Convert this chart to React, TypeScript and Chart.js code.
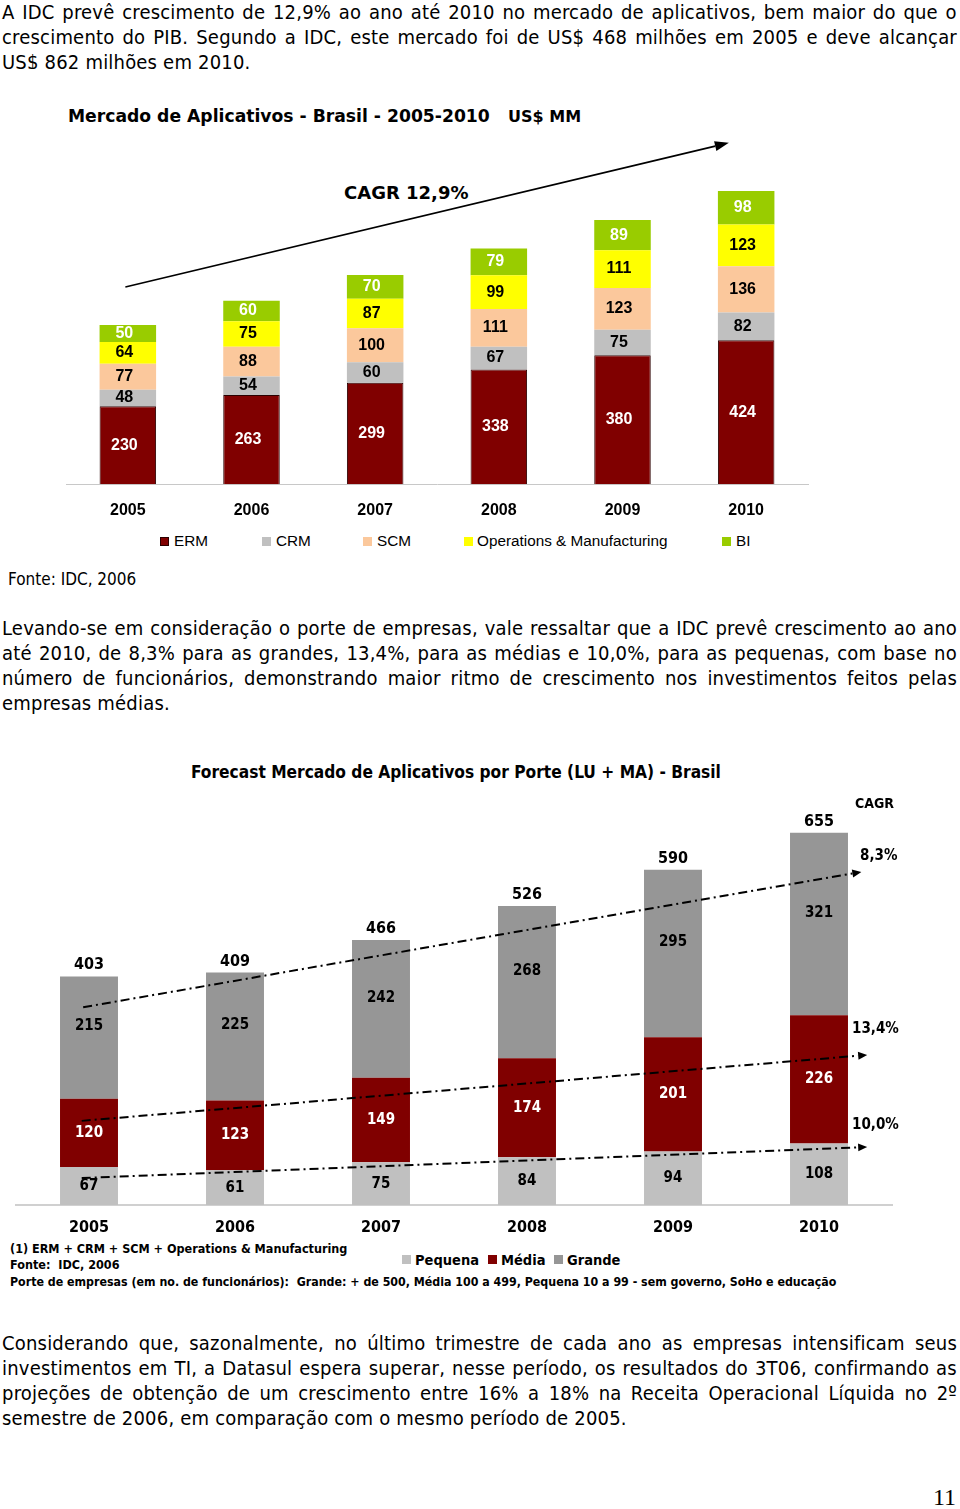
import React, { useEffect, useRef } from "react";
import { Chart, registerables } from "chart.js";
Chart.register(...registerables);

// ---------- Chart 1 data ----------
const years = ["2005", "2006", "2007", "2008", "2009", "2010"];
const erm = [230, 263, 299, 338, 380, 424];
const crm = [48, 54, 60, 67, 75, 82];
const scm = [77, 88, 100, 111, 123, 136];
const ops = [64, 75, 87, 99, 111, 123];
const bi = [50, 60, 70, 79, 89, 98];
// CAGR arrow endpoints in data units [categoryIndex, value]
const cagrArrow1 = [[-0.02, 581], [4.86, 1005]];

// ---------- Chart 2 data ----------
const pequena = [67, 61, 75, 84, 94, 108];
const media = [120, 123, 149, 174, 201, 226];
const grande = [215, 225, 242, 268, 295, 321];
const totals2 = [403, 409, 466, 526, 590, 655];
const trendGrande = [[-0.04, 348], [5.29, 586]];
const trendMedia = [[-0.05, 148], [5.33, 264]];
const trendPequena = [[-0.05, 47.5], [5.33, 102]];

const COND = "'DejaVu Sans Condensed', 'DejaVu Sans', sans-serif";
const DEJA = "'DejaVu Sans', sans-serif";
const ARIAL = "'Liberation Sans', Arial, sans-serif";

const segLabels = {
  id: "segLabels",
  afterDatasetsDraw(chart: any, _args: any, opts: any) {
    const ctx = chart.ctx;
    ctx.save();
    ctx.textAlign = "center";
    ctx.textBaseline = "middle";
    ctx.font = opts.font;
    const dx = opts.dx || 0;
    chart.data.datasets.forEach((ds: any, i: number) => {
      const meta = chart.getDatasetMeta(i);
      ctx.fillStyle = ds.labelColor;
      meta.data.forEach((el: any, j: number) => {
        const { x, y, base } = el.getProps(["x", "y", "base"], true);
        ctx.fillText(String(ds.data[j]), x + dx, (y + base) / 2 + (ds.labelDy || 0));
      });
    });
    if (opts.totals) {
      const last = chart.getDatasetMeta(chart.data.datasets.length - 1);
      const yS = chart.scales.y;
      ctx.fillStyle = "#000";
      ctx.font = opts.totalFont;
      ctx.textBaseline = "bottom";
      last.data.forEach((el: any, j: number) => {
        ctx.fillText(String(opts.totals[j]), el.x, yS.getPixelForValue(opts.totals[j]) - 3);
      });
    }
    ctx.restore();
  },
};

function arrow(ctx: any, x0: number, y0: number, x1: number, y1: number, head: number, half: number) {
  const ang = Math.atan2(y1 - y0, x1 - x0);
  const bx = x1 - Math.cos(ang) * head;
  const by = y1 - Math.sin(ang) * head;
  ctx.beginPath();
  ctx.moveTo(x0, y0);
  ctx.lineTo(bx, by);
  ctx.stroke();
  ctx.setLineDash([]);
  ctx.beginPath();
  ctx.moveTo(x1, y1);
  ctx.lineTo(bx + Math.sin(ang) * half, by - Math.cos(ang) * half);
  ctx.lineTo(bx - Math.sin(ang) * half, by + Math.cos(ang) * half);
  ctx.closePath();
  ctx.fill();
}

const trendPlugin = {
  id: "trendPlugin",
  afterDatasetsDraw(chart: any, _a: any, opts: any) {
    const ctx = chart.ctx;
    const xs = chart.scales.x;
    const ys = chart.scales.y;
    ctx.save();
    ctx.strokeStyle = "#000";
    ctx.fillStyle = "#000";
    ctx.lineWidth = opts.width;
    (opts.lines || []).forEach((ln: number[][]) => {
      ctx.setLineDash(opts.dash || []);
      arrow(
        ctx,
        xs.getPixelForValue(ln[0][0]),
        ys.getPixelForValue(ln[0][1]),
        xs.getPixelForValue(ln[1][0]),
        ys.getPixelForValue(ln[1][1]),
        opts.head,
        opts.half
      );
    });
    ctx.restore();
  },
};

function Chart1() {
  const ref = useRef<HTMLCanvasElement>(null);
  useEffect(() => {
    const c = new Chart(ref.current as any, {
      type: "bar",
      data: {
        labels: years,
        datasets: [
          { label: "ERM", data: erm, backgroundColor: "#800000", borderColor: "#2a0000", borderWidth: 1, labelColor: "#fff" } as any,
          { label: "CRM", data: crm, backgroundColor: "#c0c0c0", labelColor: "#000" } as any,
          { label: "SCM", data: scm, backgroundColor: "#fbc89c", labelColor: "#000" } as any,
          { label: "Operations & Manufacturing", data: ops, backgroundColor: "#ffff00", labelColor: "#000" } as any,
          { label: "BI", data: bi, backgroundColor: "#99cc00", labelColor: "#fff" } as any,
        ],
      },
      options: {
        animation: false,
        responsive: false,
        layout: { padding: { left: 66, right: 152, top: 10.6, bottom: 0 } },
        datasets: { bar: { barPercentage: 0.457, categoryPercentage: 1 } },
        plugins: {
          legend: { display: false },
          tooltip: { enabled: false },
          segLabels: { font: `bold 16px ${ARIAL}`, dx: -3.5 },
          trendPlugin: { lines: [cagrArrow1], width: 1.6, head: 14, half: 5, dash: [] },
        } as any,
        scales: {
          x: {
            stacked: true,
            grid: { display: false, drawTicks: false },
            border: { display: true, color: "#c8c8c8", width: 1 },
            ticks: { color: "#000", padding: 17, font: { family: ARIAL, size: 16, weight: "bold" } },
            afterFit: (s: any) => { s.height = 45.7; },
          },
          y: { stacked: true, display: false, min: 0, max: 1100 },
        },
      },
      plugins: [segLabels, trendPlugin],
    });
    return () => c.destroy();
  }, []);
  return <canvas ref={ref} width={960} height={430} style={{ position: "absolute", left: 0, top: 100, display: "block" }} />;
}

function Chart2() {
  const ref = useRef<HTMLCanvasElement>(null);
  useEffect(() => {
    const c = new Chart(ref.current as any, {
      type: "bar",
      data: {
        labels: years,
        datasets: [
          { label: "Pequena", data: pequena, backgroundColor: "#c0c0c0", labelColor: "#000" } as any,
          { label: "Média", data: media, backgroundColor: "#800000", labelColor: "#fff" } as any,
          { label: "Grande", data: grande, backgroundColor: "#969696", labelColor: "#000", labelDy: -11 } as any,
        ],
      },
      options: {
        animation: false,
        responsive: false,
        layout: { padding: { left: 16, right: 68, top: 17.1, bottom: 0 } },
        datasets: { bar: { barPercentage: 0.397, categoryPercentage: 1 } },
        plugins: {
          legend: { display: false },
          tooltip: { enabled: false },
          segLabels: { font: `bold 15px ${COND}`, totals: totals2, totalFont: `bold 16px ${COND}` },
          trendPlugin: { lines: [trendGrande, trendMedia, trendPequena], width: 2, head: 9, half: 4, dash: [9, 4, 2, 4] },
        } as any,
        scales: {
          x: {
            stacked: true,
            grid: { display: false, drawTicks: false },
            border: { display: true, color: "#d0d0d0", width: 2 },
            ticks: { color: "#000", padding: 13, font: { family: COND, size: 16, weight: "bold" } },
            afterFit: (s: any) => { s.height = 35; },
          },
          y: { stacked: true, display: false, min: 0, max: 700 },
        },
      },
      plugins: [segLabels, trendPlugin],
    });
    return () => c.destroy();
  }, []);
  return <canvas ref={ref} width={960} height={450} style={{ position: "absolute", left: 0, top: 790, display: "block" }} />;
}

function T(props: { x: number; y: number; size: number; bold?: boolean; family?: string; color?: string; h?: number; ls?: number; children: any }) {
  const h = props.h || Math.round(props.size * 1.3);
  return (
    <div
      style={{
        position: "absolute",
        left: props.x,
        top: props.y - h / 2,
        height: h,
        lineHeight: h + "px",
        fontSize: props.size,
        fontWeight: props.bold ? "bold" : "normal",
        fontFamily: props.family || COND,
        color: props.color || "#000",
        letterSpacing: props.ls || 0,
        whiteSpace: "pre",
      }}
    >
      {props.children}
    </div>
  );
}

const P_SIZE = 20;
const P_LS = 0.2;

function JLine({ y, text }: { y: number; text: string }) {
  return (
    <div
      style={{
        position: "absolute",
        left: 2,
        width: 955,
        top: y - 12.5,
        height: 25,
        lineHeight: "25px",
        fontSize: P_SIZE,
        letterSpacing: P_LS,
        fontFamily: COND,
        display: "flex",
        justifyContent: "space-between",
        whiteSpace: "nowrap",
      }}
    >
      {text.split(" ").map((w, i) => (
        <span key={i}>{w}</span>
      ))}
    </div>
  );
}

function Sq({ x, y, c, b }: { x: number; y: number; c: string; b?: string }) {
  return <div style={{ position: "absolute", left: x, top: y, width: 9, height: 9, background: c, boxSizing: "border-box", border: b ? `1px solid ${b}` : "none" }} />;
}

export default function App() {
  return (
    <div style={{ position: "relative", width: 960, height: 1509, overflow: "hidden", background: "#fff" }}>
      <style>{"body{margin:0;background:#fff}"}</style>

      <div style={{ position: "absolute", left: 0, top: 0, width: 960, height: 69, overflow: "hidden" }}>
        <JLine y={12} text="A IDC prevê crescimento de 12,9% ao ano até 2010 no mercado de aplicativos, bem maior do que o" />
        <JLine y={37} text="crescimento do PIB. Segundo a IDC, este mercado foi de US$ 468 milhões em 2005 e deve alcançar" />
        <T x={2} y={62} size={P_SIZE} ls={P_LS} h={25}>US$ 862 milhões em 2010.</T>
      </div>

      <T x={68} y={116} size={17.2} bold family={DEJA}>Mercado de Aplicativos - Brasil - 2005-2010</T>
      <T x={508} y={116} size={16} bold family={DEJA}>US$ MM</T>
      <T x={344} y={192} size={18} bold family={DEJA}>CAGR 12,9%</T>

      <Chart1 />

      <Sq x={160} y={537} c="#800000" b="#2a0000" />
      <T x={174} y={541} size={15.3} family={ARIAL}>ERM</T>
      <Sq x={262} y={537} c="#c0c0c0" />
      <T x={276} y={541} size={15.3} family={ARIAL}>CRM</T>
      <Sq x={363} y={537} c="#fbc89c" />
      <T x={377} y={541} size={15.3} family={ARIAL}>SCM</T>
      <Sq x={464} y={537} c="#ffff00" />
      <T x={477} y={541} size={15.3} family={ARIAL}>Operations &amp; Manufacturing</T>
      <Sq x={722} y={537} c="#99cc00" />
      <T x={736} y={541} size={15.3} family={ARIAL}>BI</T>

      <T x={8} y={579} size={17}>Fonte: IDC, 2006</T>

      <JLine y={628} text="Levando-se em consideração o porte de empresas, vale ressaltar que a IDC prevê crescimento ao ano" />
      <JLine y={653} text="até 2010, de 8,3% para as grandes, 13,4%, para as médias e 10,0%, para as pequenas, com base no" />
      <JLine y={678} text="número de funcionários, demonstrando maior ritmo de crescimento nos investimentos feitos pelas" />
      <T x={2} y={703} size={P_SIZE} ls={P_LS} h={25}>empresas médias.</T>

      <T x={191} y={772} size={17.2} bold>Forecast Mercado de Aplicativos por Porte (LU + MA) - Brasil</T>

      <Chart2 />

      <T x={855} y={803} size={14} bold>CAGR</T>
      <T x={860} y={855} size={15} bold>8,3%</T>
      <T x={852} y={1028} size={15} bold>13,4%</T>
      <T x={852} y={1124} size={15} bold>10,0%</T>

      <T x={10} y={1249} size={12.5} bold>(1) ERM + CRM + SCM + Operations &amp; Manufacturing</T>
      <T x={10} y={1265} size={12.5} bold>Fonte:  IDC, 2006</T>
      <T x={10} y={1282} size={12.3} bold>Porte de empresas (em no. de funcionários):  Grande: + de 500, Média 100 a 499, Pequena 10 a 99 - sem governo, SoHo e educação</T>

      <Sq x={402} y={1255} c="#c0c0c0" />
      <T x={415} y={1260} size={14.5} bold>Pequena</T>
      <Sq x={488} y={1255} c="#800000" />
      <T x={501} y={1260} size={14.5} bold>Média</T>
      <Sq x={554} y={1255} c="#969696" />
      <T x={567} y={1260} size={14.5} bold>Grande</T>

      <JLine y={1343} text="Considerando que, sazonalmente, no último trimestre de cada ano as empresas intensificam seus" />
      <JLine y={1368} text="investimentos em TI, a Datasul espera superar, nesse período, os resultados do 3T06, confirmando as" />
      <JLine y={1393} text="projeções de obtenção de um crescimento entre 16% a 18% na Receita Operacional Líquida no 2º" />
      <T x={2} y={1418} size={P_SIZE} ls={P_LS} h={25}>semestre de 2006, em comparação com o mesmo período de 2005.</T>

      <T x={933} y={1497} size={24} family={"'Liberation Serif', 'DejaVu Serif', serif"}>11</T>
    </div>
  );
}
